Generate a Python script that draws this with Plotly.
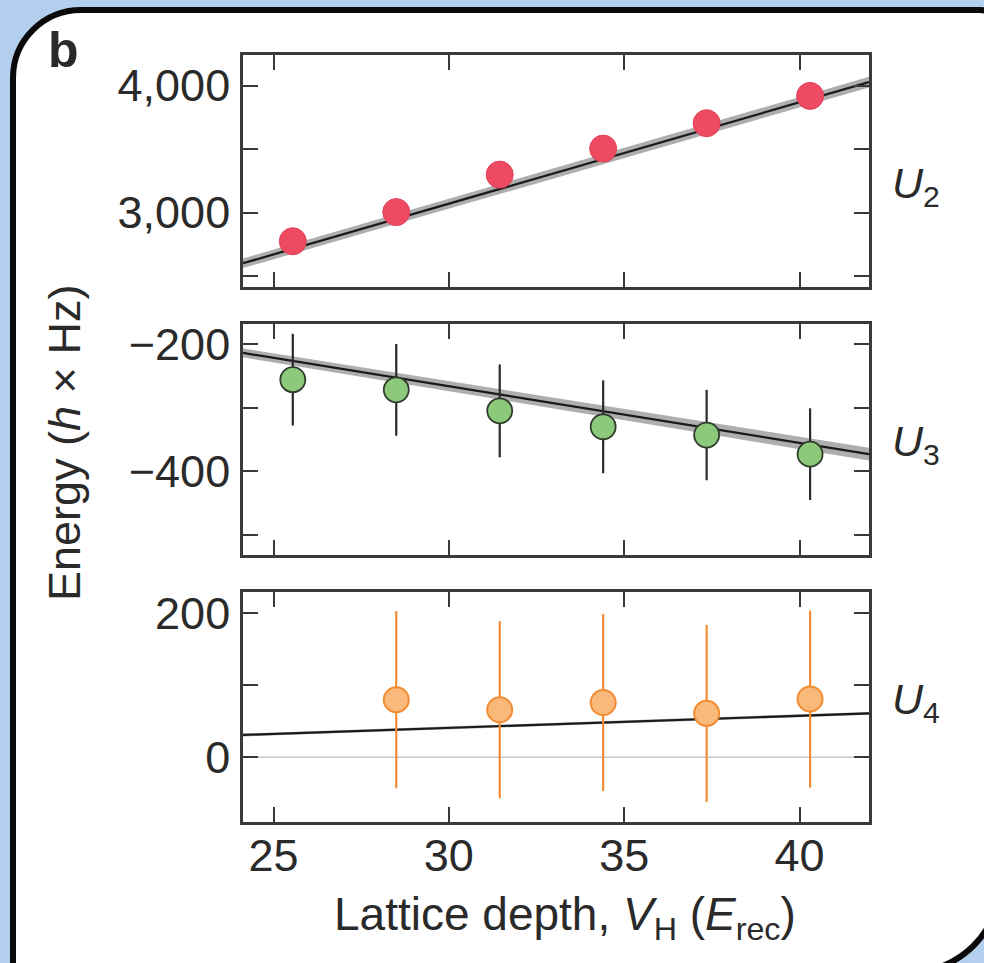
import plotly.graph_objects as go

# ---------------- data ----------------
depth = [25.55, 28.5, 31.45, 34.4, 37.35, 40.3]
u2 = [2775, 3005, 3300, 3505, 3705, 3920]
u3 = [-256, -272, -305, -330, -343, -373]
u3_err = [72, 72, 73, 73, 71, 72]
depth4 = [28.5, 31.45, 34.4, 37.35, 40.3]
u4 = [80, 66, 76, 61, 81]
u4_err = [123, 123, 123, 123, 123]

fit_x = [24.13, 41.98]
u2_fit = [2602, 4028]
u2_band = [38, 42]
u3_fit = [-214, -373]
u3_band = [7, 10]
u4_fit = [31, 61]
u4_band = [2, 2]

x_ticks = [25, 30, 35, 40]
u2_ticks = [3000, 4000]
u2_ticktext = ["3,000", "4,000"]
u3_ticks = [-400, -200]
u3_ticktext = ["\u2212400", "\u2212200"]
u4_ticks = [0, 200]
u4_ticktext = ["0", "200"]

W, H = 984, 963
FONT = "Liberation Sans, Arial, Helvetica, sans-serif"
AX = "#3a3a3a"

def px(x):
    return x / W

def py(y):
    return 1 - y / H

fig = go.Figure()

def add_fit(xa, ya, fit, band):
    lo = [f - b for f, b in zip(fit, band)]
    hi = [f + b for f, b in zip(fit, band)]
    fig.add_trace(go.Scatter(x=fit_x, y=lo, mode="lines", line=dict(width=0, color="rgba(0,0,0,0)"),
                             xaxis=xa, yaxis=ya, showlegend=False, hoverinfo="skip"))
    fig.add_trace(go.Scatter(x=fit_x, y=hi, mode="lines", line=dict(width=0, color="rgba(0,0,0,0)"),
                             fill="tonexty", fillcolor="rgba(120,120,120,0.6)",
                             xaxis=xa, yaxis=ya, showlegend=False, hoverinfo="skip"))
    fig.add_trace(go.Scatter(x=fit_x, y=fit, mode="lines", line=dict(width=2.2, color="#1a1a1a"),
                             xaxis=xa, yaxis=ya, showlegend=False, hoverinfo="skip"))

# top panel U2
add_fit("x", "y", u2_fit, u2_band)
fig.add_trace(go.Scatter(x=depth, y=u2, mode="markers", xaxis="x", yaxis="y",
                         marker=dict(size=27, color="#ee4a62", line=dict(width=1, color="#e43f58")),
                         showlegend=False))

# middle panel U3
add_fit("x2", "y2", u3_fit, u3_band)
fig.add_trace(go.Scatter(x=depth, y=u3, mode="markers", xaxis="x2", yaxis="y2",
                         error_y=dict(type="data", array=u3_err, visible=True, width=0,
                                      thickness=2.2, color="#2a2a2a"),
                         marker=dict(size=25, color="#8cc97a", line=dict(width=1.8, color="#2f3d2c")),
                         showlegend=False))

# bottom panel U4
fig.add_trace(go.Scatter(x=fit_x, y=[0, 0], mode="lines", xaxis="x3", yaxis="y3",
                         line=dict(width=1.6, color="#c9c9c9"), showlegend=False, hoverinfo="skip"))
add_fit("x3", "y3", u4_fit, u4_band)
fig.add_trace(go.Scatter(x=depth4, y=u4, mode="markers", xaxis="x3", yaxis="y3",
                         error_y=dict(type="data", array=u4_err, visible=True, width=0,
                                      thickness=2.2, color="#f28c33"),
                         marker=dict(size=25, color="#f9b97b", line=dict(width=2, color="#f28c33")),
                         showlegend=False))

xdom = [px(243), px(869)]
doms = [[py(287), py(55)], [py(555), py(324)], [py(822), py(592)]]
yranges = [[2415, 4242], [-531.4, -168.6], [-89.9, 229.6]]
ytv = [u2_ticks, u3_ticks, u4_ticks]
ytt = [u2_ticktext, u3_ticktext, u4_ticktext]
ydt = [500, 100, 100]

common_axis = dict(showline=True, linecolor=AX, linewidth=2.6, mirror="ticks",
                   ticks="inside", ticklen=15, tickwidth=2.4, tickcolor=AX,
                   showgrid=False, zeroline=False,
                   tickfont=dict(family=FONT, size=45, color="#2a2a2a"))

layout = dict(width=W, height=H, margin=dict(l=0, r=0, t=0, b=0, autoexpand=False),
              paper_bgcolor="#b3cfee", plot_bgcolor="white", showlegend=False)

for i in range(3):
    sx = "" if i == 0 else str(i + 1)
    layout["xaxis" + sx] = dict(common_axis, domain=xdom, range=fit_x, anchor="y" + sx,
                                tickvals=x_ticks, showticklabels=(i == 2), ticklabelstandoff=-8)
    layout["yaxis" + sx] = dict(common_axis, domain=doms[i], range=yranges[i], anchor="x" + sx,
                                tickvals=ytv[i], ticktext=ytt[i], ticklabelstandoff=1,
                                minor=dict(dtick=ydt[i], tick0=0, ticks="inside", ticklen=15,
                                           tickwidth=2.4, tickcolor=AX, showgrid=False))

fig.update_layout(**layout)

# rounded white frame (per-corner radii; right / bottom edges run past the view)
L, T, R, B = 13, 10, 1000, 972
rTL, rTR, rBR, rBL = 68, 20, 90, 10
c = 0.4477

def corner(x0, y0, xc, yc, x1, y1):
    return (f"C {px(x0 + (xc - x0) * (1 - c))},{py(y0 + (yc - y0) * (1 - c))} "
            f"{px(x1 + (xc - x1) * (1 - c))},{py(y1 + (yc - y1) * (1 - c))} {px(x1)},{py(y1)} ")

path = f"M {px(L)},{py(T + rTL)} "
path += corner(L, T + rTL, L, T, L + rTL, T)
path += f"L {px(R - rTR)},{py(T)} "
path += corner(R - rTR, T, R, T, R, T + rTR)
path += f"L {px(R)},{py(B - rBR)} "
path += corner(R, B - rBR, R, B, R - rBR, B)
path += f"L {px(L + rBL)},{py(B)} "
path += corner(L + rBL, B, L, B, L, B - rBL)
path += "Z"
fig.add_shape(type="path", path=path, xref="paper", yref="paper", layer="below",
              fillcolor="white", line=dict(color="#0a0a0a", width=6))

ann = []
def note(text, x, y, size, angle=0, xa="center"):
    ann.append(dict(text=text, x=px(x), y=py(y), xref="paper", yref="paper",
                    xanchor=xa, yanchor="middle", textangle=angle, showarrow=False,
                    font=dict(family=FONT, size=size, color="#2a2a2a")))

note("<b>b</b>", 63, 50, 50)
note("Energy (<i>h</i> \u00d7 Hz)", 64, 443, 45, angle=-90)
note("Lattice depth, <i>V</i><sub>H</sub> (<i>E</i><sub>rec</sub>)", 565, 917, 46)
for lab, yy in [("2", 186), ("3", 444), ("4", 702)]:
    note(f"<i>U</i><sub>{lab}</sub>", 890, yy, 43, xa="left")
fig.update_layout(annotations=ann)

fig.write_html("out.html", post_script="document.body.style.margin='0';",
               config={"displayModeBar": False})
